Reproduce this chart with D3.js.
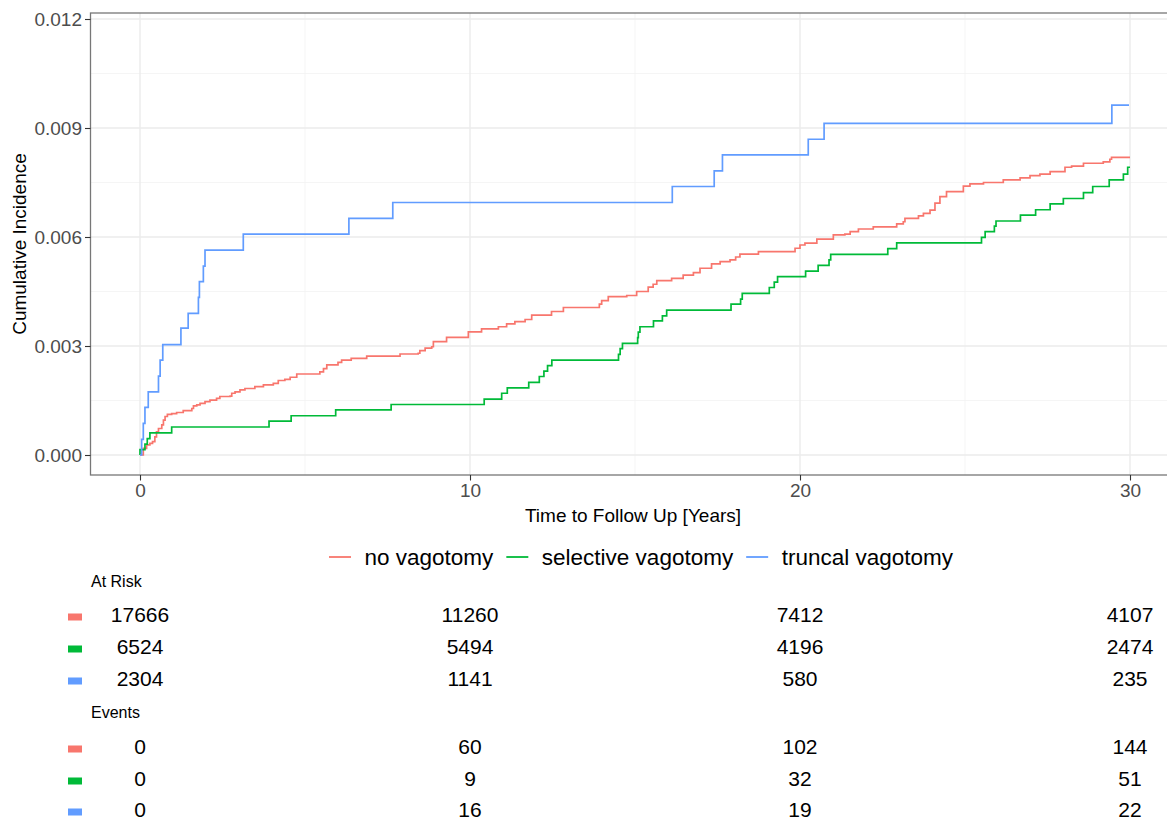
<!DOCTYPE html>
<html>
<head>
<meta charset="utf-8">
<script src="https://cdn.jsdelivr.net/npm/d3@7"></script>
<style>
  html, body { margin: 0; padding: 0; background: #fff; }
  svg { display: block; font-family: "Liberation Sans", Arial, Helvetica, sans-serif; }
</style>
</head>
<body>
<svg id="chart" width="1167" height="820"></svg>
<script>
// ---------------- DATA ----------------
const groups = ["no vagotomy", "selective vagotomy", "truncal vagotomy"];
const groupColors = ["#F8766D", "#00BA38", "#619CFF"];

// step curves: time (years) and cumulative incidence
const noVagotomyTime = [0, 0.10, 0.20, 0.30, 0.38, 0.45, 0.50, 0.56, 0.66, 0.71, 0.76, 0.83, 0.96, 1.11, 1.31, 1.57, 1.62, 1.72, 1.82, 1.97, 2.12, 2.32, 2.42, 2.73, 2.78, 2.88, 3.03, 3.18, 3.48, 3.74, 4.04, 4.19, 4.39, 4.55, 4.75, 5.45, 5.56, 5.66, 6.00, 6.11, 6.40, 6.87, 7.88, 8.43, 8.48, 8.64, 8.84, 8.89, 9.29, 9.95, 10.35, 10.86, 11.11, 11.36, 11.67, 11.87, 12.47, 12.83, 13.92, 13.99, 14.19, 14.75, 15.05, 15.40, 15.55, 15.66, 16.11, 16.46, 16.77, 16.97, 17.32, 17.58, 17.88, 18.05, 18.18, 18.74, 19.85, 20.00, 20.15, 20.51, 21.01, 21.36, 21.52, 21.77, 22.22, 22.93, 23.13, 23.18, 23.59, 23.74, 23.94, 24.09, 24.24, 24.44, 24.95, 25.15, 25.56, 26.16, 26.67, 26.97, 27.27, 27.58, 28.03, 28.23, 28.59, 29.19, 29.39, 29.44, 30.00];
const noVagotomyCI = [0, 0.00018, 0.00028, 0.00032, 0.00037, 0.00050, 0.00064, 0.00073, 0.00083, 0.00096, 0.00106, 0.00112, 0.00114, 0.00117, 0.00122, 0.00128, 0.00135, 0.00138, 0.00142, 0.00147, 0.00151, 0.00156, 0.00161, 0.00162, 0.00170, 0.00174, 0.00179, 0.00183, 0.00188, 0.00193, 0.00197, 0.00205, 0.00208, 0.00214, 0.00223, 0.00229, 0.00238, 0.00248, 0.00255, 0.00261, 0.00266, 0.00272, 0.00278, 0.00280, 0.00287, 0.00294, 0.00298, 0.00312, 0.00324, 0.00339, 0.00347, 0.00353, 0.00361, 0.00367, 0.00373, 0.00385, 0.00395, 0.00406, 0.00415, 0.00425, 0.00436, 0.00439, 0.00450, 0.00462, 0.00470, 0.00480, 0.00486, 0.00495, 0.00502, 0.00514, 0.00526, 0.00532, 0.00537, 0.00545, 0.00553, 0.00560, 0.00569, 0.00578, 0.00583, 0.00594, 0.00606, 0.00608, 0.00615, 0.00622, 0.00628, 0.00636, 0.00642, 0.00651, 0.00658, 0.00665, 0.00674, 0.00693, 0.00711, 0.00725, 0.00740, 0.00746, 0.00750, 0.00757, 0.00763, 0.00769, 0.00773, 0.00780, 0.00792, 0.00795, 0.00803, 0.00807, 0.00814, 0.00819, 0.00819];

const selectiveTime = [0, 0, 0.15, 0.22, 0.30, 0.96, 3.91, 4.58, 5.93, 7.61, 10.43, 10.96, 11.13, 11.78, 12.10, 12.24, 12.35, 12.48, 14.50, 14.55, 14.62, 15.08, 15.10, 15.15, 15.56, 15.83, 15.96, 17.91, 18.20, 18.25, 19.07, 19.22, 19.32, 20.17, 20.55, 20.88, 20.93, 22.66, 22.93, 25.50, 25.61, 25.89, 25.94, 26.68, 27.14, 27.58, 27.98, 28.59, 28.87, 29.37, 29.80, 29.93, 30.00];
const selectiveCI = [0, 0.00015, 0.00030, 0.00045, 0.00061, 0.00077, 0.00093, 0.00108, 0.00124, 0.00139, 0.00154, 0.00170, 0.00185, 0.00200, 0.00216, 0.00231, 0.00246, 0.00261, 0.00277, 0.00293, 0.00307, 0.00323, 0.00338, 0.00353, 0.00369, 0.00383, 0.00399, 0.00415, 0.00429, 0.00445, 0.00461, 0.00476, 0.00491, 0.00506, 0.00522, 0.00537, 0.00552, 0.00568, 0.00584, 0.00599, 0.00615, 0.00630, 0.00644, 0.00660, 0.00675, 0.00691, 0.00706, 0.00722, 0.00739, 0.00757, 0.00773, 0.00792, 0.00792];

const truncalTime = [0, 0.05, 0.10, 0.15, 0.25, 0.56, 0.61, 0.69, 1.24, 1.46, 1.77, 1.80, 1.92, 1.97, 3.13, 6.33, 7.66, 16.13, 17.40, 17.65, 20.25, 20.73, 29.45, 29.97];
const truncalCI = [0, 0.00043, 0.00087, 0.00131, 0.00174, 0.00217, 0.00261, 0.00304, 0.00349, 0.00390, 0.00434, 0.00477, 0.00520, 0.00564, 0.00608, 0.00651, 0.00695, 0.00739, 0.00782, 0.00826, 0.00869, 0.00913, 0.00963, 0.00963];

// axis ticks
const xTicks = [0, 10, 20, 30];
const xMinor = [5, 15, 25];
const yTicks = [0, 0.003, 0.006, 0.009, 0.012];
const yMinor = [0.0015, 0.0045, 0.0075, 0.0105];

// risk table
const tableTimes = [0, 10, 20, 30];
const atRiskNo = [17666, 11260, 7412, 4107];
const atRiskSelective = [6524, 5494, 4196, 2474];
const atRiskTruncal = [2304, 1141, 580, 235];
const eventsNo = [0, 60, 102, 144];
const eventsSelective = [0, 9, 32, 51];
const eventsTruncal = [0, 16, 19, 22];

// ---------------- DRAW ----------------
const svg = d3.select("#chart");
const panel = { left: 90.5, right: 1179.5, top: 13, bottom: 475 };

const x = d3.scaleLinear().domain([-1.5, 31.5]).range([panel.left, panel.right]);
const y = d3.scaleLinear().domain([0, 0.012]).range([455, 19]);

svg.append("defs").append("clipPath").attr("id", "clip")
  .append("rect").attr("x", panel.left).attr("y", panel.top)
  .attr("width", panel.right - panel.left).attr("height", panel.bottom - panel.top);

const grid = svg.append("g");
grid.selectAll(".ymin").data(yMinor).join("line")
  .attr("x1", panel.left).attr("x2", panel.right)
  .attr("y1", d => y(d)).attr("y2", d => y(d))
  .attr("stroke", "#F2F2F2").attr("stroke-width", 0.8);
grid.selectAll(".xmin").data(xMinor).join("line")
  .attr("y1", panel.top).attr("y2", panel.bottom)
  .attr("x1", d => x(d)).attr("x2", d => x(d))
  .attr("stroke", "#F2F2F2").attr("stroke-width", 0.8);
grid.selectAll(".ymaj").data(yTicks).join("line")
  .attr("x1", panel.left).attr("x2", panel.right)
  .attr("y1", d => y(d)).attr("y2", d => y(d))
  .attr("stroke", "#EBEBEB").attr("stroke-width", 1.4);
grid.selectAll(".xmaj").data(xTicks).join("line")
  .attr("y1", panel.top).attr("y2", panel.bottom)
  .attr("x1", d => x(d)).attr("x2", d => x(d))
  .attr("stroke", "#EBEBEB").attr("stroke-width", 1.4);

// curves
const series = [
  { t: noVagotomyTime, v: noVagotomyCI },
  { t: selectiveTime, v: selectiveCI },
  { t: truncalTime, v: truncalCI }
];
const line = d3.line().curve(d3.curveStepAfter).x(d => x(d[0])).y(d => y(d[1]));
const curves = svg.append("g").attr("clip-path", "url(#clip)");
series.forEach((s, i) => {
  const pts = s.t.map((t, j) => [t, s.v[j]]);
  curves.append("path").datum(pts)
    .attr("d", line).attr("fill", "none")
    .attr("stroke", groupColors[i]).attr("stroke-width", 1.7);
});

// panel border
svg.append("rect")
  .attr("x", panel.left).attr("y", panel.top)
  .attr("width", panel.right - panel.left).attr("height", panel.bottom - panel.top)
  .attr("fill", "none").attr("stroke", "#777").attr("stroke-width", 1.3);

// axes
const yAxis = svg.append("g").attr("transform", `translate(${panel.left},0)`)
  .call(d3.axisLeft(y).tickValues(yTicks).tickFormat(d3.format(".3f")).tickSize(5.5).tickPadding(3));
const xAxis = svg.append("g").attr("transform", `translate(0,${panel.bottom})`)
  .call(d3.axisBottom(x).tickValues(xTicks).tickFormat(d3.format("d")).tickSize(5.5).tickPadding(3.5));
[yAxis, xAxis].forEach(a => {
  a.select(".domain").remove();
  a.selectAll(".tick line").attr("stroke", "#333").attr("stroke-width", 1.1);
  a.selectAll(".tick text").attr("fill", "#4D4D4D").style("font-size", "19px")
    .style("font-family", "'Liberation Sans', Arial, sans-serif");
});

// axis titles
svg.append("text").attr("x", (panel.left + panel.right) / 2 - 2).attr("y", 522)
  .attr("text-anchor", "middle").style("font-size", "19px").attr("fill", "#000")
  .text("Time to Follow Up [Years]");
svg.append("text").attr("transform", `translate(26,${(panel.top + panel.bottom) / 2}) rotate(-90)`)
  .attr("text-anchor", "middle").style("font-size", "19px").attr("fill", "#000")
  .text("Cumulative Incidence");

// legend
const legend = svg.append("g");
let lx = 329;
groups.forEach((g, i) => {
  legend.append("line").attr("x1", lx).attr("x2", lx + 22).attr("y1", 557).attr("y2", 557)
    .attr("stroke", groupColors[i]).attr("stroke-width", 1.8);
  const t = legend.append("text").attr("x", lx + 35.5).attr("y", 565)
    .style("font-size", "22.5px").attr("fill", "#000").text(g);
  lx = lx + 35.5 + t.node().getComputedTextLength() + 13;
});

// risk table
const table = svg.append("g");
function block(title, titleY, rows, rowYs) {
  table.append("text").attr("x", 91).attr("y", titleY).style("font-size", "16px")
    .attr("fill", "#000").text(title);
  rows.forEach((vals, i) => {
    table.append("rect").attr("x", 68).attr("y", rowYs[i] - 8.5).attr("width", 14).attr("height", 7)
      .attr("fill", groupColors[i]);
    table.selectAll(null).data(vals).join("text")
      .attr("x", (d, j) => x(tableTimes[j])).attr("y", rowYs[i])
      .attr("text-anchor", "middle").style("font-size", "21px").attr("fill", "#000")
      .text(d => d);
  });
}
block("At Risk", 587, [atRiskNo, atRiskSelective, atRiskTruncal], [622, 654, 686]);
block("Events", 718, [eventsNo, eventsSelective, eventsTruncal], [754, 786, 817]);
</script>
</body>
</html>
